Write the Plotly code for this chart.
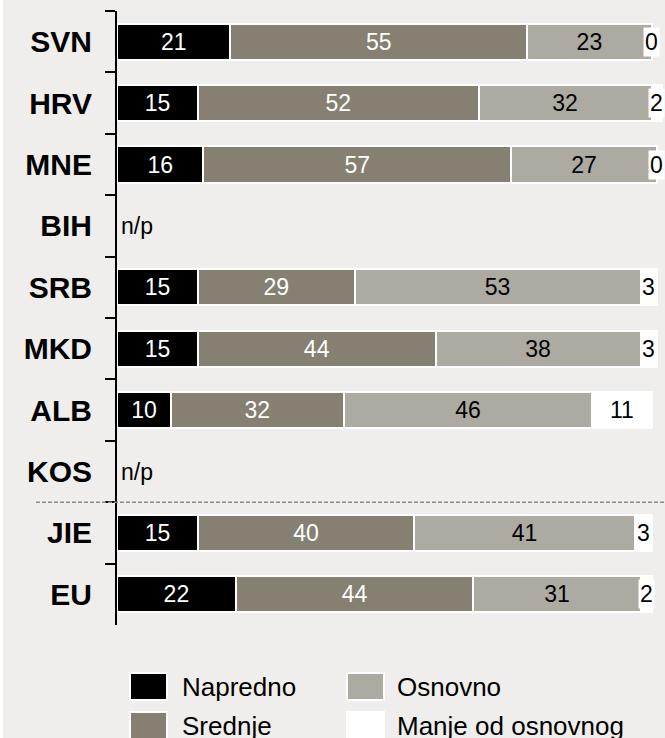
"""Stupčasti grafikon razina vještina po zemljama (Plotly)."""

import plotly.graph_objects as go

KATEGORIJE = ["SVN", "HRV", "MNE", "BIH", "SRB", "MKD", "ALB", "KOS", "JIE", "EU"]
NAPREDNO = [21, 15, 16, None, 15, 15, 10, None, 15, 22]
SREDNJE = [55, 52, 57, None, 29, 44, 32, None, 40, 44]
OSNOVNO = [23, 32, 27, None, 53, 38, 46, None, 41, 31]
MANJE = [0, 2, 0, None, 3, 3, 11, None, 3, 2]
NAZIVI = ["Napredno", "Srednje", "Osnovno", "Manje od osnovnog"]
NEMA_PODATAKA = ["BIH", "KOS"]

COR_FUNDO = "#efeeec"
BOJE = ["#000000", "#858072", "#adaaa2", "#ffffff"]
BOJE_TEKSTA = ["#ffffff", "#ffffff", "#000000", "#000000"]
FONT = "Liberation Sans, Arial, sans-serif"

# geometrija u pikselima (područje crteža)
L, T, W, H = 117, 11, 548, 614


def px_x(px):
    return (px - L) / W


def px_y(py):
    return (T + H - py) / H


serije = [NAPREDNO, SREDNJE, OSNOVNO, MANJE]

fig = go.Figure()
for i, (naziv, vrijednosti) in enumerate(zip(NAZIVI, serije)):
    fig.add_trace(
        go.Bar(
            y=KATEGORIJE,
            x=vrijednosti,
            orientation="h",
            name=naziv,
            marker=dict(color=BOJE[i], line=dict(color="#ffffff", width=2)),
            text=vrijednosti if i < 3 else None,
            textposition="inside" if i < 3 else "none",
            insidetextanchor="middle",
            textangle=0,
            textfont=dict(family=FONT, size=23, color=BOJE_TEKSTA[i]),
            hoverinfo="skip",
        )
    )

# oznake zadnjeg segmenta (često preuske za tekst unutar stupca)
for k, v in enumerate(MANJE):
    if v is None:
        continue
    pocetak = NAPREDNO[k] + SREDNJE[k] + OSNOVNO[k]
    fig.add_annotation(
        x=pocetak + v / 2, y=KATEGORIJE[k], text=str(v), showarrow=False,
        bgcolor="#ffffff", borderpad=1,
        font=dict(family=FONT, size=23, color="#000000"),
    )

for kat in NEMA_PODATAKA:
    fig.add_annotation(
        x=0, y=kat, text="n/p", showarrow=False, xanchor="left", xshift=2,
        font=dict(family=FONT, size=23, color="#000000"),
    )

# isprekidana crta između zemalja i prosjeka
fig.add_shape(
    type="line", xref="paper", yref="y", x0=px_x(36), x1=1, y0=7.5, y1=7.5,
    line=dict(color="#8a8a8a", width=1.5, dash="4px,2px"),
)

# bijeli rub lijevo
fig.add_shape(
    type="rect", xref="paper", yref="paper", x0=px_x(0), x1=px_x(3),
    y0=px_y(738), y1=px_y(0), line=dict(width=0), fillcolor="#ffffff", layer="below",
)

# ručna legenda u dva stupca
for i, naziv in enumerate(NAZIVI):
    stupac, red = i // 2, i % 2
    x_sw = [130, 347][stupac]
    x_tx = [180, 395][stupac]
    y_top = [673, 712][red]
    fig.add_shape(
        type="rect", xref="paper", yref="paper",
        x0=px_x(x_sw), x1=px_x(x_sw + 37), y0=px_y(y_top + 27), y1=px_y(y_top),
        fillcolor=BOJE[i], line=dict(color="#ffffff", width=2),
    )
    fig.add_annotation(
        xref="paper", yref="paper", x=px_x(x_tx), y=px_y(y_top + 14),
        text=naziv, showarrow=False, xanchor="left", yanchor="middle",
        font=dict(family=FONT, size=26, color="#000000"),
    )

fig.update_xaxes(visible=False, range=[0, 101.5])
fig.update_yaxes(
    type="category",
    categoryorder="array",
    categoryarray=KATEGORIJE,
    autorange="reversed",
    showline=True, linecolor="#000000", linewidth=2,
    ticks="outside", tickson="boundaries", ticklen=10, tickwidth=2, tickcolor="#000000",
    ticklabelstandoff=17,
    tickfont=dict(family=FONT, size=30, color="#000000", weight="bold"),
    showgrid=False, zeroline=False,
)
fig.update_layout(
    width=665,
    height=738,
    barmode="stack",
    bargap=0.41,
    showlegend=False,
    paper_bgcolor=COR_FUNDO,
    plot_bgcolor=COR_FUNDO,
    margin=dict(l=L, r=0, t=T, b=738 - T - H, autoexpand=False),
    font=dict(family=FONT),
)

fig.write_html(
    "out.html",
    config={"displayModeBar": False},
    post_script="document.body.style.margin='0';document.body.style.overflow='hidden';",
)
